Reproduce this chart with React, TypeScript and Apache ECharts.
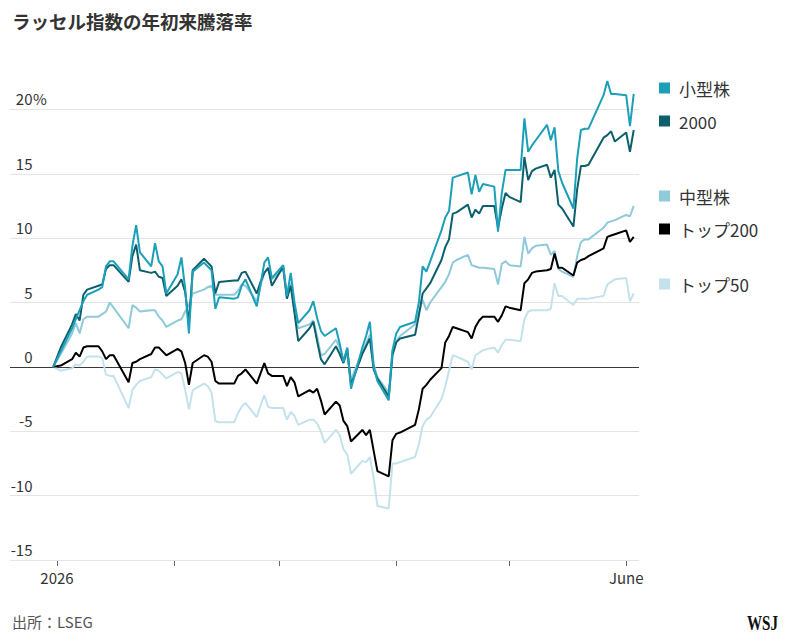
import React, { useEffect, useRef } from "react";
import * as echarts from "echarts";

// Trading days (Dec 31, 2025 close = 0)
const dates = [
  "2025-12-31",
  "2026-01-02","2026-01-05","2026-01-06","2026-01-07","2026-01-08","2026-01-09","2026-01-12","2026-01-13","2026-01-14","2026-01-15",
  "2026-01-16","2026-01-20","2026-01-21","2026-01-22","2026-01-23","2026-01-26","2026-01-27","2026-01-28","2026-01-29","2026-01-30",
  "2026-02-02","2026-02-03","2026-02-04","2026-02-05","2026-02-06","2026-02-09","2026-02-10","2026-02-11","2026-02-12","2026-02-13",
  "2026-02-17","2026-02-18","2026-02-19","2026-02-20","2026-02-23","2026-02-24","2026-02-25","2026-02-26","2026-02-27",
  "2026-03-02","2026-03-03","2026-03-04","2026-03-05","2026-03-06","2026-03-09","2026-03-10","2026-03-11","2026-03-12","2026-03-13",
  "2026-03-16","2026-03-17","2026-03-18","2026-03-19","2026-03-20","2026-03-23","2026-03-24","2026-03-25","2026-03-26","2026-03-27",
  "2026-03-30","2026-03-31",
  "2026-04-01","2026-04-02","2026-04-06","2026-04-07","2026-04-08","2026-04-09","2026-04-10","2026-04-13","2026-04-14","2026-04-15",
  "2026-04-16","2026-04-17","2026-04-20","2026-04-21","2026-04-22","2026-04-23","2026-04-24","2026-04-27","2026-04-28","2026-04-29",
  "2026-04-30",
  "2026-05-01","2026-05-04","2026-05-05","2026-05-06","2026-05-07","2026-05-08","2026-05-11","2026-05-12","2026-05-13","2026-05-14",
  "2026-05-15","2026-05-18","2026-05-19","2026-05-20","2026-05-21","2026-05-22","2026-05-26","2026-05-27","2026-05-28","2026-05-29",
  "2026-06-01","2026-06-02","2026-06-03",
];

const smallCap = [
  0,
  1.2, 3.0, 3.7, 4.4, 5.1, 5.6, 6.0, 6.2, 7.8, 8.2, 8.2, 6.8, 9.4, 11.0, 8.9, 7.8, 9.6, 8.2, 7.8, 5.7,
  7.2, 8.5, 6.1, 2.6, 7.4, 8.1, 7.8, 7.5, 4.5, 5.4, 5.3, 5.4, 6.3, 6.8, 4.7, 6.4, 8.1, 8.5, 6.9,
  7.9, 5.5, 7.3, 5.0, 3.4, 4.4, 5.1, 3.8, 2.8, 2.4, 3.0, 1.8, 0.4, 1.5, -1.7, 1.5, 2.4, 3.5, 0.0, -1.1, -2.6, 1.3,
  2.6, 3.1, 3.5, 5.0, 7.8, 7.4, 8.2, 10.6, 11.6, 12.1, 14.7, 14.8, 15.1, 13.4, 14.9, 13.6, 14.2, 14.0, 10.5, 13.5, 15.3,
  15.3, 15.3, 19.3, 16.7, 17.2, 17.6, 18.8, 17.6, 18.6, 15.2, 14.3, 12.3, 16.2, 18.4, 18.5, 18.5, 21.1, 22.2, 21.2, 21.2,
  21.1, 18.7, 21.2,
];

const r2000 = [
  0,
  1.5, 3.3, 4.1, 3.6, 5.6, 6.0, 6.3, 6.4, 7.6, 7.9, 7.9, 6.6, 8.6, 9.5, 7.5, 7.3, 7.4, 7.0, 6.9, 5.5,
  6.3, 6.8, 5.8, 3.4, 7.5, 8.4, 8.1, 7.8, 5.7, 6.6, 6.7, 6.7, 7.3, 7.4, 5.7, 6.6, 7.3, 7.7, 6.3,
  7.8, 5.3, 6.3, 4.2, 2.0, 3.0, 3.5, 2.0, 0.6, 0.2, 1.6, 1.0, 0.3, 1.4, -1.4, 1.0, 1.6, 2.2, -0.2, -0.9, -2.3, 0.9,
  1.9, 2.2, 2.5, 4.0, 5.7, 6.1, 6.5, 8.3, 9.3, 9.9, 11.9, 12.0, 12.6, 11.6, 12.2, 11.9, 12.5, 12.5, 10.8, 12.3, 13.5,
  13.2, 12.8, 16.3, 14.5, 15.2, 15.4, 15.7, 14.7, 15.3, 12.6, 12.3, 10.9, 13.8, 15.6, 15.6, 15.7, 17.8, 18.0, 18.3, 17.5,
  18.2, 16.7, 18.4,
];

const midCap = [
  0,
  1.0, 2.6, 3.4, 2.6, 3.7, 3.9, 3.9, 4.1, 4.3, 5.0, 4.6, 3.0, 4.8, 4.6, 4.3, 4.4, 4.4, 3.9, 3.6, 3.1,
  3.6, 3.7, 4.3, 4.8, 5.7, 6.0, 6.2, 6.3, 5.6, 5.6, 5.6, 5.9, 6.4, 6.3, 5.1, 6.3, 7.3, 7.6, 6.8,
  7.6, 5.3, 6.5, 4.3, 3.0, 3.3, 3.6, 2.4, 0.9, 1.0, 2.1, 1.5, 0.4, 1.0, -1.0, 1.2, 1.8, 2.5, 0.2, -0.8, -2.0, 1.2,
  2.0, 2.4, 3.3, 4.2, 5.2, 4.4, 5.0, 6.2, 6.6, 7.2, 8.1, 8.3, 8.7, 7.9, 7.8, 7.7, 7.7, 7.6, 6.4, 8.0, 8.2,
  7.9, 7.8, 10.1, 8.8, 9.2, 9.4, 9.5, 8.7, 9.0, 7.6, 7.4, 7.0, 8.6, 9.7, 9.9, 9.9, 10.8, 11.2, 11.3, 11.4,
  11.8, 11.7, 12.5,
];

const top200 = [
  0,
  0.1, 0.6, 1.1, 0.8, 1.5, 1.6, 1.6, 1.2, 0.6, 0.9, 0.9, -1.2, 0.3, 0.4, 0.6, 1.0, 1.5, 1.5, 1.2, 0.9,
  1.4, 1.2, 0.3, -1.4, 0.3, 0.9, 0.8, 0.4, -1.1, -1.3, -1.3, -0.7, -0.5, -0.2, -1.3, -0.5, 0.3, -0.5, -0.7,
  -0.7, -1.5, -0.8, -1.2, -2.3, -1.8, -2.0, -1.7, -2.6, -3.7, -2.7, -3.0, -4.2, -4.6, -5.8, -4.9, -5.3, -4.9, -6.5, -8.1, -8.5, -5.7,
  -5.2, -5.1, -4.5, -3.3, -1.7, -1.4, -1.0, -0.1, 1.9, 2.4, 3.1, 3.0, 2.7, 2.2, 3.1, 3.6, 3.9, 3.9, 3.5, 4.0, 4.7,
  4.6, 4.4, 6.5, 6.8, 7.3, 7.4, 7.5, 7.6, 8.8, 7.7, 7.7, 7.1, 8.1, 8.3, 8.4, 8.6, 9.2, 10.1, 10.2, 10.3,
  10.6, 9.7, 10.1,
];

const top50 = [
  0,
  -0.3, -0.1, 0.2, 0.1, 0.4, 0.8, 0.8, 0.7, -0.6, -0.7, -0.7, -3.2, -1.8, -1.4, -1.1, -0.8, -0.2, -0.3, -0.6, -0.9,
  -0.4, -0.5, -1.8, -3.3, -1.8, -1.3, -1.5, -2.0, -4.2, -4.3, -4.3, -3.6, -3.1, -2.8, -3.9, -3.0, -2.2, -3.1, -3.2,
  -3.2, -4.1, -3.5, -3.8, -4.5, -4.1, -4.1, -4.4, -5.0, -5.9, -4.9, -5.3, -6.4, -6.8, -8.3, -7.3, -7.4, -7.0, -8.6, -10.8, -11.0, -7.5,
  -7.5, -7.4, -7.0, -6.0, -4.6, -4.1, -3.9, -2.5, -1.5, -0.3, 0.9, 0.8, 0.4, -0.2, 0.9, 1.1, 1.3, 1.5, 1.1, 1.7, 2.1,
  2.1, 2.0, 3.7, 4.3, 4.4, 4.4, 4.4, 4.5, 6.5, 5.5, 5.5, 4.8, 5.3, 5.3, 5.3, 5.3, 5.5, 6.4, 6.6, 6.8,
  6.9, 5.1, 5.7,
];

const seriesNames = ["小型株", "2000", "中型株", "トップ200", "トップ50"];
const seriesColors = ["#1c9fb8", "#0c5f6b", "#8ecad9", "#000000", "#c3e2eb"];
const yTickValues = [-15, -10, -5, 0, 5, 10, 15, 20];
const yUnitValue = 20;
const yUnit = "%";
const xTickDays = [0, 31, 59, 90, 120, 151];
const xLabelDays = [0, 151];
const xLabelTexts = ["2026", "June"];

const FONT = '"Noto Sans CJK JP", "Noto Sans", sans-serif';

function dayOf(s: string): number {
  const [y, m, d] = s.split("-").map(Number);
  return Math.round((Date.UTC(y, m - 1, d) - Date.UTC(2026, 0, 1)) / 86400000);
}

export default function App() {
  const ref = useRef<HTMLDivElement>(null);

  useEffect(() => {
    if (!ref.current) return;
    const chart = echarts.init(ref.current, undefined, { renderer: "svg" });
    const xs = dates.map(dayOf);
    const valueSets = [smallCap, r2000, midCap, top200, top50];
    const zs = [6, 5, 3, 4, 2];

    const series: any[] = seriesNames.map((name, i) => ({
      name,
      type: "line",
      data: xs.map((x, j) => [x, valueSets[i][j]]),
      showSymbol: false,
      symbol: "none",
      z: zs[i],
      color: seriesColors[i],
      lineStyle: { color: seriesColors[i], width: 2 },
      itemStyle: { color: seriesColors[i] },
      emphasis: { disabled: true },
    }));

    series[4].markLine = {
      silent: true,
      z: 1,
      symbol: ["none", "none"],
      label: { show: false },
      emphasis: { disabled: true },
      data: yTickValues.map((v) => ({
        yAxis: v,
        lineStyle: { color: v === 0 ? "#3a3a3a" : "#e4e4e4", width: 1, type: "solid" },
      })),
    };

    const legendBase = {
      orient: "vertical",
      left: 659,
      padding: 0,
      icon: "rect",
      itemWidth: 11,
      itemHeight: 11,
      itemGap: 13,
      selectedMode: false,
      textStyle: { fontSize: 17, color: "#333", fontFamily: FONT, lineHeight: 20, padding: [0, 0, 0, 4] },
    };

    const yAxisBase = {
      type: "value",
      min: -15,
      max: 25,
      interval: 5,
      position: "left",
      axisLine: { show: false },
      axisTick: { show: false },
      splitLine: { show: false },
    };
    const yLabelBase = {
      inside: true,
      verticalAlign: "bottom",
      lineHeight: 15,
      padding: [0, 0, 3, 0],
      fontSize: 15,
      color: "#333",
      fontFamily: FONT,
    };

    chart.setOption({
      animation: false,
      grid: { left: 10, right: 146, top: 45, bottom: 83, containLabel: false },
      legend: [
        { ...legendBase, top: 78, data: ["小型株", "2000"] },
        { ...legendBase, top: 186, data: ["中型株", "トップ200"] },
        { ...legendBase, top: 274, data: ["トップ50"] },
      ],
      xAxis: {
        type: "value",
        min: -12.47,
        max: 154.4,
        axisLine: { show: false, onZero: false },
        splitLine: { show: false },
        axisTick: {
          show: true,
          customValues: xTickDays,
          length: 6,
          lineStyle: { color: "#666", width: 1 },
        },
        axisLabel: {
          customValues: xLabelDays,
          formatter: (v: number) => {
            const k = xLabelDays.indexOf(Math.round(v));
            return k >= 0 ? xLabelTexts[k] : "";
          },
          margin: 10,
          fontSize: 15,
          color: "#333",
          fontFamily: FONT,
        },
      },
      yAxis: [
        {
          ...yAxisBase,
          axisLabel: {
            ...yLabelBase,
            align: "right",
            margin: 22.5,
            formatter: (v: number) => (yTickValues.indexOf(v) < 0 ? "" : String(v)),
          },
        },
        {
          ...yAxisBase,
          offset: 0,
          axisLabel: {
            ...yLabelBase,
            align: "left",
            margin: 23,
            formatter: (v: number) => (v === yUnitValue ? yUnit : ""),
          },
        },
      ],
      graphic: [
        {
          type: "text",
          left: 12,
          top: 12,
          style: {
            text: "ラッセル指数の年初来騰落率",
            fontSize: 18.5,
            fontWeight: "bold",
            fontFamily: FONT,
            fill: "#333",
          },
        },
        {
          type: "text",
          left: 12,
          top: 614,
          style: { text: "出所：LSEG", fontSize: 15, fontFamily: FONT, fill: "#555" },
        },
        {
          type: "text",
          x: 778,
          y: 623,
          scaleX: 0.72,
          style: {
            text: "WSJ",
            fontSize: 21,
            fontWeight: "bold",
            fontFamily: '"Liberation Serif", "DejaVu Serif", serif',
            fill: "#111",
            align: "right",
            verticalAlign: "middle",
          },
        },
      ],
      series,
    });

    return () => chart.dispose();
  }, []);

  return (
    <div
      ref={ref}
      style={{ position: "fixed", left: 0, top: 0, width: 785, height: 643, background: "#fff" }}
    />
  );
}
